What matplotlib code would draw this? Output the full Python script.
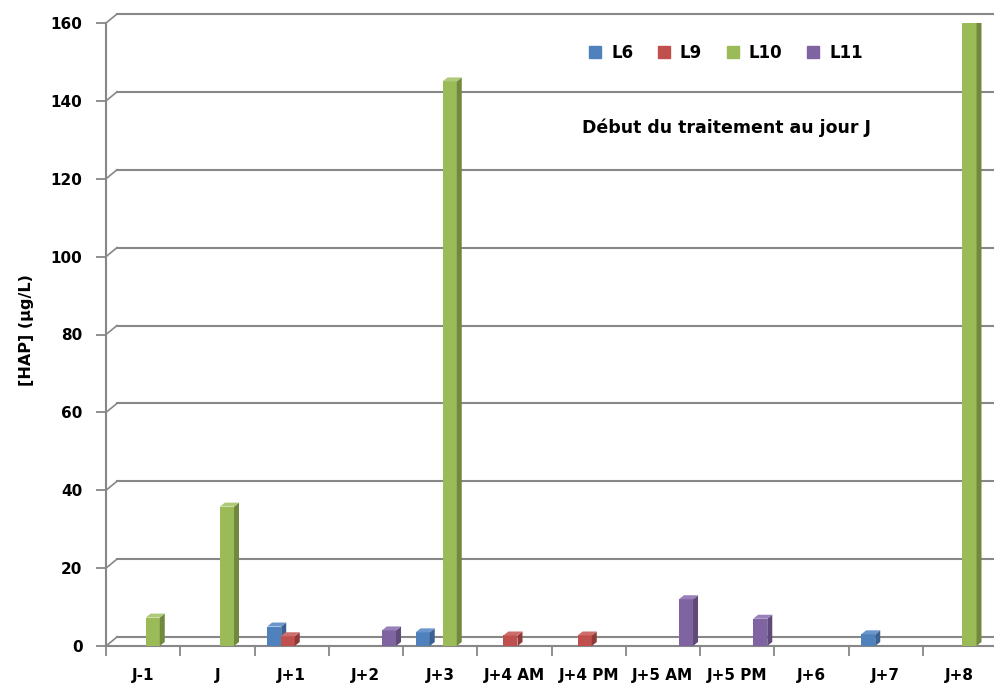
import numpy as np
import matplotlib.pyplot as plt
from matplotlib.patches import Polygon, Patch

# data
categories = ['J-1', 'J', 'J+1', 'J+2', 'J+3', 'J+4 AM', 'J+4 PM',
              'J+5 AM', 'J+5 PM', 'J+6', 'J+7', 'J+8']
series_names = ['L6', 'L9', 'L10', 'L11']
L6 = [0, 0, 5.0, 0, 3.5, 0, 0, 0, 0, 0, 3.0, 0]
L9 = [0, 0, 2.5, 0, 0, 2.7, 2.7, 0, 0, 0, 0, 0]
L10 = [7.3, 35.8, 0, 0, 145, 0, 0, 0, 0, 0, 0, 160]
L11 = [0, 0, 0, 4.0, 0, 0, 0, 12.0, 7.0, 0, 0, 0]
yticks = [0, 20, 40, 60, 80, 100, 120, 140, 160]

front_cols = ['#4F81BD', '#C0504D', '#9BBB59', '#8064A2']
side_cols = ['#3A6190', '#8E3A38', '#71893F', '#5F4A78']
top_cols = ['#6A96CC', '#CE6E6B', '#AEC977', '#9A80BA']

plt.rcParams['font.family'] = ['DejaVu Sans']
plt.rcParams['font.weight'] = 'bold'

fig = plt.figure(figsize=(9.94, 6.83), dpi=100)
ax = fig.add_axes([106 / 994, (683 - 646) / 683, 891 / 994, (646 - 23) / 683])
ax.set_xlim(-0.5, 11.5)
ax.set_ylim(0, 160)

px_x = 891 / 12.0   # pixels per category
px_y = 623 / 160.0  # pixels per unit

grid_col = '#878787'
# back wall offset
gx, gy = 11 / px_x, 9 / px_y
for v in yticks:
    ax.plot([-0.5, -0.5 + gx], [v, v + gy], color=grid_col, lw=1.2, clip_on=False, zorder=1)
    ax.plot([-0.5 + gx, 12], [v + gy, v + gy], color=grid_col, lw=1.5, clip_on=False, zorder=1)

# 3D-ish bars
x = np.arange(len(categories))
slot = 0.182
width = 0.19
dx, dy = 5 / px_x, 4 / px_y
all_series = [L6, L9, L10, L11]
for i, vals in enumerate(all_series):
    xs = x + (i - 1.5) * slot + 0.038
    for xc, h in zip(xs, vals):
        if h <= 0:
            continue
        x0, x1 = xc - width / 2, xc + width / 2
        z = 3 + i
        ax.bar(xc, h, width=width, color=front_cols[i], zorder=z)
        ax.add_patch(Polygon([(x1, 0), (x1 + dx, dy), (x1 + dx, h + dy), (x1, h)],
                             closed=True, color=side_cols[i], zorder=z, lw=0))
        ax.add_patch(Polygon([(x0, h), (x0 + dx, h + dy), (x1 + dx, h + dy), (x1, h)],
                             closed=True, color=top_cols[i], zorder=z, lw=0))

# axes styling
for s in ['top', 'right']:
    ax.spines[s].set_visible(False)
ax.spines['left'].set_color(grid_col)
ax.spines['left'].set_linewidth(1.5)
ax.spines['bottom'].set_color(grid_col)
ax.spines['bottom'].set_linewidth(1.5)

ax.set_yticks(yticks)
ax.set_yticklabels([str(v) for v in yticks], fontsize=11, fontweight='bold')
ax.tick_params(axis='y', length=7, width=1.3, color=grid_col, pad=10)

ax.set_xticks(np.arange(-0.5, 12, 1.0))
ax.set_xticklabels([])
ax.set_xticks(x, minor=True)
ax.set_xticklabels(categories, minor=True, fontsize=11, fontweight='bold')
ax.tick_params(axis='x', which='major', length=7, width=1.3, color=grid_col)
ax.tick_params(axis='x', which='minor', length=0, pad=16)

fig.text(27 / 994, 1 - 330 / 683, '[HAP] (µg/L)', rotation=90, ha='center', va='center',
         fontsize=11.5, fontweight='bold')

handles = [Patch(color=c) for c in front_cols]
fig.legend(handles, series_names, loc='center', bbox_to_anchor=(726 / 994, 1 - 53 / 683),
           ncol=4, frameon=False, handlelength=0.7, handleheight=0.7, handletextpad=0.6,
           columnspacing=1.5, prop={'size': 12, 'weight': 'bold'})

fig.text(726 / 994, 1 - 128 / 683, 'Début du traitement au jour J', ha='center', va='center',
         fontsize=12.5, fontweight='bold')

fig.savefig('out.png', dpi=100)
